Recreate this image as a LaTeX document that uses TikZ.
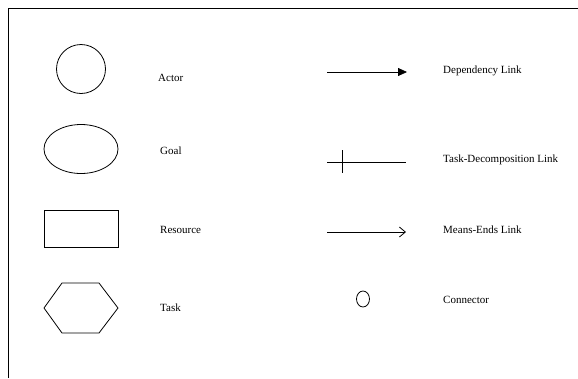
\documentclass[tikz,border=0pt]{standalone}
\usepackage{fontspec}
\setmainfont{Liberation Serif}
\usetikzlibrary{arrows.meta,shapes.geometric}
\begin{document}
\begin{tikzpicture}[x=1pt,y=-1pt,
  shp/.style={draw,line width=0.8pt,inner sep=0pt,outer sep=0pt},
  lbl/.style={anchor=west,inner sep=0pt,font=\fontsize{11}{13}\selectfont},
  lnk/.style={line width=0.8pt}]
\useasboundingbox (0,0) rectangle (578,378);
\draw[line width=0.8pt] (8,378) -- (8,8) -- (578,8);
% shapes
\node[shp,circle,minimum size=49pt] (actor) at (81,69) {};
\node[lbl] (tactor) at (158,78) {Actor};
\node[shp,ellipse,minimum width=74pt,minimum height=49pt] (goal) at (81,149) {};
\node[lbl] (tgoal) at (160,151) {Goal};
\node[shp,rectangle,minimum width=74pt,minimum height=37pt] (res) at (81,228.5) {};
\node[lbl] (tres) at (160,230) {Resource};
\draw[line width=0.8pt] (44,308) -- (62,283) -- (99,283) -- (118,308) -- (99,333) -- (62,333) -- cycle;
\node[lbl] (ttask) at (160,308) {Task};
% links
\coordinate (d1) at (327,72); \coordinate (d2) at (407,72);
\draw[lnk,-{Triangle[length=9pt,width=8pt]}] (d1) -- (d2);
\node[lbl] (tdep) at (443,71) {Dependency Link};
\coordinate (t1) at (327,162); \coordinate (t2) at (406,162);
\coordinate (v1) at (342,150); \coordinate (v2) at (342,173);
\draw[lnk] (t1) -- (t2);
\draw[lnk] (v1) -- (v2);
\node[lbl] (ttd) at (443,160) {Task-Decomposition Link};
\coordinate (m1) at (327,232); \coordinate (m2) at (406,232);
\draw[lnk,-{Straight Barb[length=6pt,width=10pt]}] (m1) -- (m2);
\node[lbl] (tme) at (443,230) {Means-Ends Link};
\node[shp,ellipse,minimum width=13pt,minimum height=16pt] (conn) at (363,299) {};
\node[lbl] (tconn) at (443,300) {Connector};
\end{tikzpicture}
\end{document}
